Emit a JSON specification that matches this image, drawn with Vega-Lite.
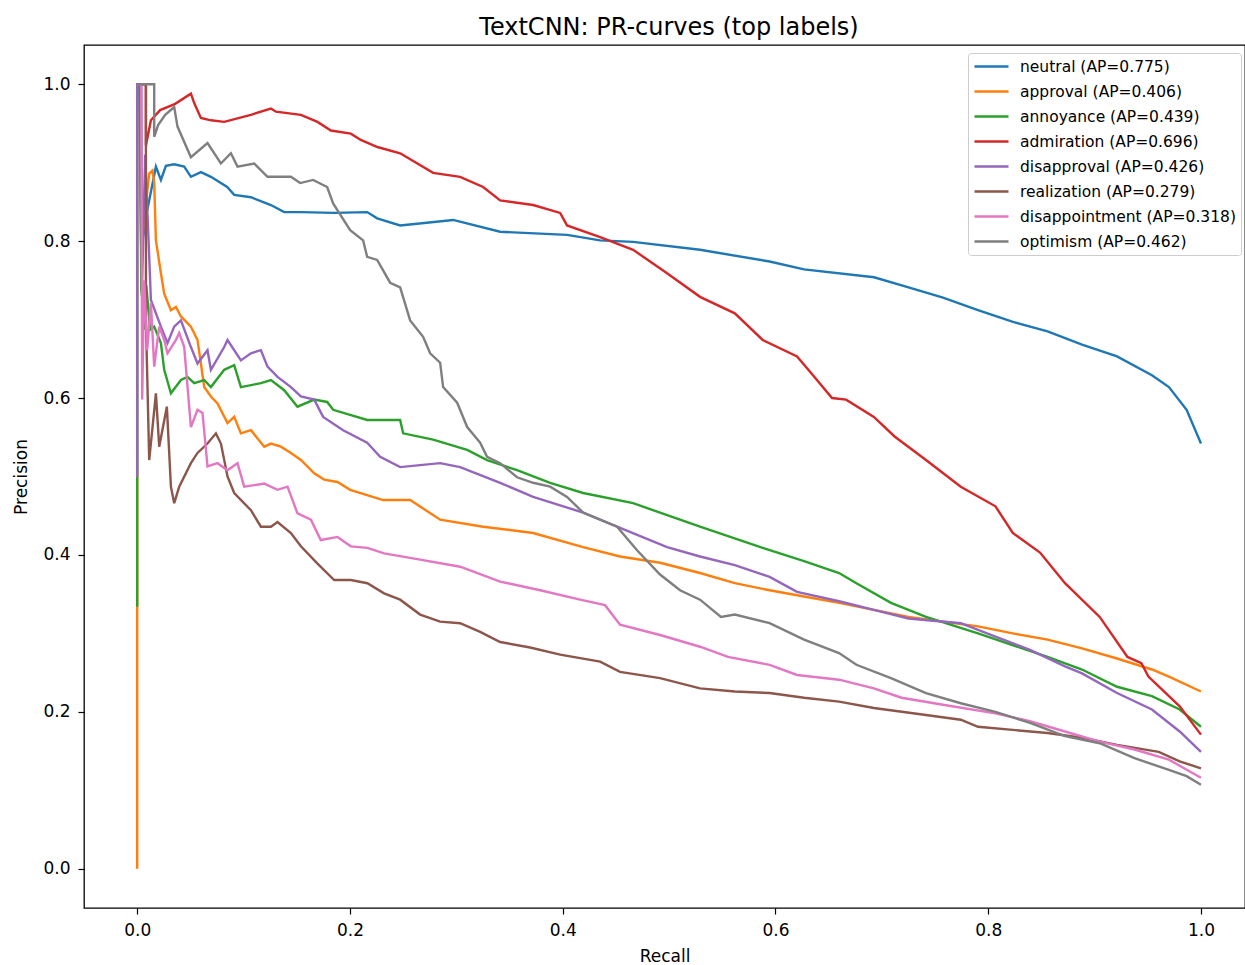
{
  "$schema": "https://vega.github.io/schema/vega-lite/v6.json",
  "width": 1161,
  "height": 863,
  "autosize": {"type": "none"},
  "padding": {"left": 84, "top": 45, "right": 0, "bottom": 57},
  "background": "white",
  "title": {"text": "TextCNN: PR-curves (top labels)", "fontSize": 24, "font": "DejaVu Sans", "fontWeight": "normal", "color": "black", "anchor": "middle", "dx": 4.5, "offset": 5},
  "config": {
    "font": "DejaVu Sans",
    "view": {"stroke": "black", "strokeWidth": 1.3},
    "axis": {"labelFont": "DejaVu Sans", "labelFontSize": 17, "labelColor": "black", "titleFont": "DejaVu Sans", "titleFontSize": 17, "titleFontWeight": "normal", "titleColor": "black", "tickColor": "black", "tickSize": 6, "tickWidth": 1.2, "domain": false, "grid": false, "labelPadding": 8}
  },
  "data": {"values": [
    {"label": "neutral (AP=0.775)", "recall": 0, "precision": 1},
    {"label": "neutral (AP=0.775)", "recall": 0.0019, "precision": 1},
    {"label": "neutral (AP=0.775)", "recall": 0.0038, "precision": 0.789},
    {"label": "neutral (AP=0.775)", "recall": 0.0085, "precision": 0.833},
    {"label": "neutral (AP=0.775)", "recall": 0.0113, "precision": 0.852},
    {"label": "neutral (AP=0.775)", "recall": 0.0176, "precision": 0.895},
    {"label": "neutral (AP=0.775)", "recall": 0.0223, "precision": 0.878},
    {"label": "neutral (AP=0.775)", "recall": 0.027, "precision": 0.896},
    {"label": "neutral (AP=0.775)", "recall": 0.0348, "precision": 0.898},
    {"label": "neutral (AP=0.775)", "recall": 0.0442, "precision": 0.895},
    {"label": "neutral (AP=0.775)", "recall": 0.0505, "precision": 0.882},
    {"label": "neutral (AP=0.775)", "recall": 0.0599, "precision": 0.888},
    {"label": "neutral (AP=0.775)", "recall": 0.0693, "precision": 0.882},
    {"label": "neutral (AP=0.775)", "recall": 0.0846, "precision": 0.869},
    {"label": "neutral (AP=0.775)", "recall": 0.0912, "precision": 0.859},
    {"label": "neutral (AP=0.775)", "recall": 0.1069, "precision": 0.856},
    {"label": "neutral (AP=0.775)", "recall": 0.1257, "precision": 0.846},
    {"label": "neutral (AP=0.775)", "recall": 0.1382, "precision": 0.837},
    {"label": "neutral (AP=0.775)", "recall": 0.1539, "precision": 0.837},
    {"label": "neutral (AP=0.775)", "recall": 0.1852, "precision": 0.836},
    {"label": "neutral (AP=0.775)", "recall": 0.2162, "precision": 0.837},
    {"label": "neutral (AP=0.775)", "recall": 0.2256, "precision": 0.829},
    {"label": "neutral (AP=0.775)", "recall": 0.2472, "precision": 0.82},
    {"label": "neutral (AP=0.775)", "recall": 0.297, "precision": 0.827},
    {"label": "neutral (AP=0.775)", "recall": 0.3412, "precision": 0.812},
    {"label": "neutral (AP=0.775)", "recall": 0.4041, "precision": 0.808},
    {"label": "neutral (AP=0.775)", "recall": 0.4352, "precision": 0.801},
    {"label": "neutral (AP=0.775)", "recall": 0.4662, "precision": 0.799},
    {"label": "neutral (AP=0.775)", "recall": 0.5291, "precision": 0.789},
    {"label": "neutral (AP=0.775)", "recall": 0.5945, "precision": 0.774},
    {"label": "neutral (AP=0.775)", "recall": 0.6269, "precision": 0.764},
    {"label": "neutral (AP=0.775)", "recall": 0.6927, "precision": 0.754},
    {"label": "neutral (AP=0.775)", "recall": 0.7251, "precision": 0.741},
    {"label": "neutral (AP=0.775)", "recall": 0.7575, "precision": 0.728},
    {"label": "neutral (AP=0.775)", "recall": 0.7904, "precision": 0.712},
    {"label": "neutral (AP=0.775)", "recall": 0.8233, "precision": 0.697},
    {"label": "neutral (AP=0.775)", "recall": 0.8558, "precision": 0.685},
    {"label": "neutral (AP=0.775)", "recall": 0.8882, "precision": 0.668},
    {"label": "neutral (AP=0.775)", "recall": 0.9211, "precision": 0.653},
    {"label": "neutral (AP=0.775)", "recall": 0.9539, "precision": 0.629},
    {"label": "neutral (AP=0.775)", "recall": 0.9699, "precision": 0.614},
    {"label": "neutral (AP=0.775)", "recall": 0.9865, "precision": 0.585},
    {"label": "neutral (AP=0.775)", "recall": 1.0, "precision": 0.542},

    {"label": "approval (AP=0.406)", "recall": 0, "precision": 0},
    {"label": "approval (AP=0.406)", "recall": 0, "precision": 1},
    {"label": "approval (AP=0.406)", "recall": 0.0028, "precision": 1},
    {"label": "approval (AP=0.406)", "recall": 0.0038, "precision": 0.789},
    {"label": "approval (AP=0.406)", "recall": 0.0085, "precision": 0.852},
    {"label": "approval (AP=0.406)", "recall": 0.0113, "precision": 0.886},
    {"label": "approval (AP=0.406)", "recall": 0.0144, "precision": 0.89},
    {"label": "approval (AP=0.406)", "recall": 0.016, "precision": 0.874},
    {"label": "approval (AP=0.406)", "recall": 0.0176, "precision": 0.801},
    {"label": "approval (AP=0.406)", "recall": 0.0223, "precision": 0.759},
    {"label": "approval (AP=0.406)", "recall": 0.0254, "precision": 0.733},
    {"label": "approval (AP=0.406)", "recall": 0.0317, "precision": 0.712},
    {"label": "approval (AP=0.406)", "recall": 0.0364, "precision": 0.716},
    {"label": "approval (AP=0.406)", "recall": 0.0411, "precision": 0.704},
    {"label": "approval (AP=0.406)", "recall": 0.0505, "precision": 0.691},
    {"label": "approval (AP=0.406)", "recall": 0.0567, "precision": 0.674},
    {"label": "approval (AP=0.406)", "recall": 0.0599, "precision": 0.644},
    {"label": "approval (AP=0.406)", "recall": 0.063, "precision": 0.614},
    {"label": "approval (AP=0.406)", "recall": 0.0693, "precision": 0.602},
    {"label": "approval (AP=0.406)", "recall": 0.0755, "precision": 0.593},
    {"label": "approval (AP=0.406)", "recall": 0.0849, "precision": 0.568},
    {"label": "approval (AP=0.406)", "recall": 0.0912, "precision": 0.576},
    {"label": "approval (AP=0.406)", "recall": 0.0975, "precision": 0.555},
    {"label": "approval (AP=0.406)", "recall": 0.1069, "precision": 0.559},
    {"label": "approval (AP=0.406)", "recall": 0.1194, "precision": 0.538},
    {"label": "approval (AP=0.406)", "recall": 0.1257, "precision": 0.542},
    {"label": "approval (AP=0.406)", "recall": 0.1351, "precision": 0.538},
    {"label": "approval (AP=0.406)", "recall": 0.1445, "precision": 0.53},
    {"label": "approval (AP=0.406)", "recall": 0.1539, "precision": 0.521},
    {"label": "approval (AP=0.406)", "recall": 0.1664, "precision": 0.504},
    {"label": "approval (AP=0.406)", "recall": 0.1758, "precision": 0.496},
    {"label": "approval (AP=0.406)", "recall": 0.1883, "precision": 0.493},
    {"label": "approval (AP=0.406)", "recall": 0.2002, "precision": 0.483},
    {"label": "approval (AP=0.406)", "recall": 0.2312, "precision": 0.47},
    {"label": "approval (AP=0.406)", "recall": 0.2566, "precision": 0.47},
    {"label": "approval (AP=0.406)", "recall": 0.2848, "precision": 0.445},
    {"label": "approval (AP=0.406)", "recall": 0.3252, "precision": 0.436},
    {"label": "approval (AP=0.406)", "recall": 0.3722, "precision": 0.428},
    {"label": "approval (AP=0.406)", "recall": 0.4192, "precision": 0.41},
    {"label": "approval (AP=0.406)", "recall": 0.4539, "precision": 0.398},
    {"label": "approval (AP=0.406)", "recall": 0.4915, "precision": 0.39},
    {"label": "approval (AP=0.406)", "recall": 0.5291, "precision": 0.377},
    {"label": "approval (AP=0.406)", "recall": 0.5618, "precision": 0.364},
    {"label": "approval (AP=0.406)", "recall": 0.5945, "precision": 0.355},
    {"label": "approval (AP=0.406)", "recall": 0.6269, "precision": 0.347},
    {"label": "approval (AP=0.406)", "recall": 0.6598, "precision": 0.339},
    {"label": "approval (AP=0.406)", "recall": 0.6925, "precision": 0.33},
    {"label": "approval (AP=0.406)", "recall": 0.7251, "precision": 0.321},
    {"label": "approval (AP=0.406)", "recall": 0.7575, "precision": 0.315},
    {"label": "approval (AP=0.406)", "recall": 0.7904, "precision": 0.309},
    {"label": "approval (AP=0.406)", "recall": 0.8231, "precision": 0.3},
    {"label": "approval (AP=0.406)", "recall": 0.8558, "precision": 0.292},
    {"label": "approval (AP=0.406)", "recall": 0.8882, "precision": 0.281},
    {"label": "approval (AP=0.406)", "recall": 0.9211, "precision": 0.268},
    {"label": "approval (AP=0.406)", "recall": 0.9539, "precision": 0.254},
    {"label": "approval (AP=0.406)", "recall": 0.9699, "precision": 0.245},
    {"label": "approval (AP=0.406)", "recall": 1.0, "precision": 0.226},

    {"label": "annoyance (AP=0.439)", "recall": 0, "precision": 0.334},
    {"label": "annoyance (AP=0.439)", "recall": 0, "precision": 1},
    {"label": "annoyance (AP=0.439)", "recall": 0.0028, "precision": 1},
    {"label": "annoyance (AP=0.439)", "recall": 0.0038, "precision": 0.738},
    {"label": "annoyance (AP=0.439)", "recall": 0.005, "precision": 0.725},
    {"label": "annoyance (AP=0.439)", "recall": 0.0066, "precision": 0.687},
    {"label": "annoyance (AP=0.439)", "recall": 0.0085, "precision": 0.744},
    {"label": "annoyance (AP=0.439)", "recall": 0.0122, "precision": 0.687},
    {"label": "annoyance (AP=0.439)", "recall": 0.016, "precision": 0.691},
    {"label": "annoyance (AP=0.439)", "recall": 0.0223, "precision": 0.67},
    {"label": "annoyance (AP=0.439)", "recall": 0.0254, "precision": 0.636},
    {"label": "annoyance (AP=0.439)", "recall": 0.0317, "precision": 0.606},
    {"label": "annoyance (AP=0.439)", "recall": 0.0411, "precision": 0.623},
    {"label": "annoyance (AP=0.439)", "recall": 0.0473, "precision": 0.627},
    {"label": "annoyance (AP=0.439)", "recall": 0.0536, "precision": 0.619},
    {"label": "annoyance (AP=0.439)", "recall": 0.063, "precision": 0.623},
    {"label": "annoyance (AP=0.439)", "recall": 0.0693, "precision": 0.614},
    {"label": "annoyance (AP=0.439)", "recall": 0.0818, "precision": 0.636},
    {"label": "annoyance (AP=0.439)", "recall": 0.0912, "precision": 0.642},
    {"label": "annoyance (AP=0.439)", "recall": 0.0975, "precision": 0.614},
    {"label": "annoyance (AP=0.439)", "recall": 0.1163, "precision": 0.619},
    {"label": "annoyance (AP=0.439)", "recall": 0.1257, "precision": 0.623},
    {"label": "annoyance (AP=0.439)", "recall": 0.1382, "precision": 0.61},
    {"label": "annoyance (AP=0.439)", "recall": 0.1507, "precision": 0.589},
    {"label": "annoyance (AP=0.439)", "recall": 0.1664, "precision": 0.598},
    {"label": "annoyance (AP=0.439)", "recall": 0.1786, "precision": 0.595},
    {"label": "annoyance (AP=0.439)", "recall": 0.1842, "precision": 0.585},
    {"label": "annoyance (AP=0.439)", "recall": 0.2162, "precision": 0.572},
    {"label": "annoyance (AP=0.439)", "recall": 0.2472, "precision": 0.572},
    {"label": "annoyance (AP=0.439)", "recall": 0.25, "precision": 0.555},
    {"label": "annoyance (AP=0.439)", "recall": 0.2782, "precision": 0.547},
    {"label": "annoyance (AP=0.439)", "recall": 0.3102, "precision": 0.534},
    {"label": "annoyance (AP=0.439)", "recall": 0.3289, "precision": 0.521},
    {"label": "annoyance (AP=0.439)", "recall": 0.3571, "precision": 0.508},
    {"label": "annoyance (AP=0.439)", "recall": 0.3882, "precision": 0.492},
    {"label": "annoyance (AP=0.439)", "recall": 0.4192, "precision": 0.479},
    {"label": "annoyance (AP=0.439)", "recall": 0.4662, "precision": 0.466},
    {"label": "annoyance (AP=0.439)", "recall": 0.5291, "precision": 0.436},
    {"label": "annoyance (AP=0.439)", "recall": 0.588, "precision": 0.409},
    {"label": "annoyance (AP=0.439)", "recall": 0.6269, "precision": 0.392},
    {"label": "annoyance (AP=0.439)", "recall": 0.6598, "precision": 0.377},
    {"label": "annoyance (AP=0.439)", "recall": 0.6761, "precision": 0.364},
    {"label": "annoyance (AP=0.439)", "recall": 0.7086, "precision": 0.339},
    {"label": "annoyance (AP=0.439)", "recall": 0.7415, "precision": 0.321},
    {"label": "annoyance (AP=0.439)", "recall": 0.7904, "precision": 0.3},
    {"label": "annoyance (AP=0.439)", "recall": 0.8558, "precision": 0.27},
    {"label": "annoyance (AP=0.439)", "recall": 0.8882, "precision": 0.254},
    {"label": "annoyance (AP=0.439)", "recall": 0.9211, "precision": 0.232},
    {"label": "annoyance (AP=0.439)", "recall": 0.9539, "precision": 0.22},
    {"label": "annoyance (AP=0.439)", "recall": 0.98, "precision": 0.203},
    {"label": "annoyance (AP=0.439)", "recall": 1.0, "precision": 0.181},

    {"label": "admiration (AP=0.696)", "recall": 0, "precision": 1},
    {"label": "admiration (AP=0.696)", "recall": 0.0082, "precision": 1},
    {"label": "admiration (AP=0.696)", "recall": 0.0082, "precision": 0.922},
    {"label": "admiration (AP=0.696)", "recall": 0.0129, "precision": 0.954},
    {"label": "admiration (AP=0.696)", "recall": 0.0216, "precision": 0.967},
    {"label": "admiration (AP=0.696)", "recall": 0.0357, "precision": 0.975},
    {"label": "admiration (AP=0.696)", "recall": 0.0505, "precision": 0.988},
    {"label": "admiration (AP=0.696)", "recall": 0.0536, "precision": 0.976},
    {"label": "admiration (AP=0.696)", "recall": 0.0599, "precision": 0.957},
    {"label": "admiration (AP=0.696)", "recall": 0.0693, "precision": 0.954},
    {"label": "admiration (AP=0.696)", "recall": 0.0818, "precision": 0.952},
    {"label": "admiration (AP=0.696)", "recall": 0.1069, "precision": 0.961},
    {"label": "admiration (AP=0.696)", "recall": 0.1257, "precision": 0.969},
    {"label": "admiration (AP=0.696)", "recall": 0.1304, "precision": 0.965},
    {"label": "admiration (AP=0.696)", "recall": 0.1539, "precision": 0.961},
    {"label": "admiration (AP=0.696)", "recall": 0.1695, "precision": 0.952},
    {"label": "admiration (AP=0.696)", "recall": 0.1821, "precision": 0.941},
    {"label": "admiration (AP=0.696)", "recall": 0.2008, "precision": 0.937},
    {"label": "admiration (AP=0.696)", "recall": 0.2102, "precision": 0.929},
    {"label": "admiration (AP=0.696)", "recall": 0.2258, "precision": 0.92},
    {"label": "admiration (AP=0.696)", "recall": 0.2472, "precision": 0.912},
    {"label": "admiration (AP=0.696)", "recall": 0.2782, "precision": 0.887},
    {"label": "admiration (AP=0.696)", "recall": 0.3036, "precision": 0.882},
    {"label": "admiration (AP=0.696)", "recall": 0.3252, "precision": 0.869},
    {"label": "admiration (AP=0.696)", "recall": 0.3412, "precision": 0.852},
    {"label": "admiration (AP=0.696)", "recall": 0.3722, "precision": 0.846},
    {"label": "admiration (AP=0.696)", "recall": 0.3976, "precision": 0.836},
    {"label": "admiration (AP=0.696)", "recall": 0.4041, "precision": 0.82},
    {"label": "admiration (AP=0.696)", "recall": 0.4352, "precision": 0.805},
    {"label": "admiration (AP=0.696)", "recall": 0.4662, "precision": 0.789},
    {"label": "admiration (AP=0.696)", "recall": 0.4981, "precision": 0.759},
    {"label": "admiration (AP=0.696)", "recall": 0.5291, "precision": 0.729},
    {"label": "admiration (AP=0.696)", "recall": 0.5618, "precision": 0.708},
    {"label": "admiration (AP=0.696)", "recall": 0.588, "precision": 0.674},
    {"label": "admiration (AP=0.696)", "recall": 0.6203, "precision": 0.653},
    {"label": "admiration (AP=0.696)", "recall": 0.6335, "precision": 0.632},
    {"label": "admiration (AP=0.696)", "recall": 0.6532, "precision": 0.6},
    {"label": "admiration (AP=0.696)", "recall": 0.6664, "precision": 0.598},
    {"label": "admiration (AP=0.696)", "recall": 0.6925, "precision": 0.576},
    {"label": "admiration (AP=0.696)", "recall": 0.712, "precision": 0.551},
    {"label": "admiration (AP=0.696)", "recall": 0.7415, "precision": 0.521},
    {"label": "admiration (AP=0.696)", "recall": 0.7742, "precision": 0.487},
    {"label": "admiration (AP=0.696)", "recall": 0.8068, "precision": 0.462},
    {"label": "admiration (AP=0.696)", "recall": 0.8231, "precision": 0.428},
    {"label": "admiration (AP=0.696)", "recall": 0.8487, "precision": 0.403},
    {"label": "admiration (AP=0.696)", "recall": 0.8722, "precision": 0.364},
    {"label": "admiration (AP=0.696)", "recall": 0.9048, "precision": 0.321},
    {"label": "admiration (AP=0.696)", "recall": 0.9309, "precision": 0.27},
    {"label": "admiration (AP=0.696)", "recall": 0.944, "precision": 0.262},
    {"label": "admiration (AP=0.696)", "recall": 0.9506, "precision": 0.245},
    {"label": "admiration (AP=0.696)", "recall": 0.98, "precision": 0.207},
    {"label": "admiration (AP=0.696)", "recall": 1.0, "precision": 0.171},

    {"label": "disapproval (AP=0.426)", "recall": 0, "precision": 0.499},
    {"label": "disapproval (AP=0.426)", "recall": 0, "precision": 1},
    {"label": "disapproval (AP=0.426)", "recall": 0.0038, "precision": 1},
    {"label": "disapproval (AP=0.426)", "recall": 0.0047, "precision": 0.75},
    {"label": "disapproval (AP=0.426)", "recall": 0.0075, "precision": 0.91},
    {"label": "disapproval (AP=0.426)", "recall": 0.0103, "precision": 0.814},
    {"label": "disapproval (AP=0.426)", "recall": 0.0129, "precision": 0.725},
    {"label": "disapproval (AP=0.426)", "recall": 0.0223, "precision": 0.691},
    {"label": "disapproval (AP=0.426)", "recall": 0.0285, "precision": 0.67},
    {"label": "disapproval (AP=0.426)", "recall": 0.0348, "precision": 0.691},
    {"label": "disapproval (AP=0.426)", "recall": 0.0411, "precision": 0.699},
    {"label": "disapproval (AP=0.426)", "recall": 0.0505, "precision": 0.665},
    {"label": "disapproval (AP=0.426)", "recall": 0.0567, "precision": 0.644},
    {"label": "disapproval (AP=0.426)", "recall": 0.0661, "precision": 0.661},
    {"label": "disapproval (AP=0.426)", "recall": 0.0693, "precision": 0.636},
    {"label": "disapproval (AP=0.426)", "recall": 0.0818, "precision": 0.665},
    {"label": "disapproval (AP=0.426)", "recall": 0.0849, "precision": 0.674},
    {"label": "disapproval (AP=0.426)", "recall": 0.0975, "precision": 0.648},
    {"label": "disapproval (AP=0.426)", "recall": 0.1069, "precision": 0.657},
    {"label": "disapproval (AP=0.426)", "recall": 0.1163, "precision": 0.661},
    {"label": "disapproval (AP=0.426)", "recall": 0.1225, "precision": 0.64},
    {"label": "disapproval (AP=0.426)", "recall": 0.1319, "precision": 0.627},
    {"label": "disapproval (AP=0.426)", "recall": 0.1445, "precision": 0.614},
    {"label": "disapproval (AP=0.426)", "recall": 0.1539, "precision": 0.602},
    {"label": "disapproval (AP=0.426)", "recall": 0.1664, "precision": 0.598},
    {"label": "disapproval (AP=0.426)", "recall": 0.1748, "precision": 0.576},
    {"label": "disapproval (AP=0.426)", "recall": 0.1936, "precision": 0.559},
    {"label": "disapproval (AP=0.426)", "recall": 0.2162, "precision": 0.543},
    {"label": "disapproval (AP=0.426)", "recall": 0.2284, "precision": 0.525},
    {"label": "disapproval (AP=0.426)", "recall": 0.2472, "precision": 0.512},
    {"label": "disapproval (AP=0.426)", "recall": 0.2848, "precision": 0.517},
    {"label": "disapproval (AP=0.426)", "recall": 0.3036, "precision": 0.512},
    {"label": "disapproval (AP=0.426)", "recall": 0.3412, "precision": 0.492},
    {"label": "disapproval (AP=0.426)", "recall": 0.3722, "precision": 0.474},
    {"label": "disapproval (AP=0.426)", "recall": 0.4192, "precision": 0.454},
    {"label": "disapproval (AP=0.426)", "recall": 0.4511, "precision": 0.436},
    {"label": "disapproval (AP=0.426)", "recall": 0.4981, "precision": 0.41},
    {"label": "disapproval (AP=0.426)", "recall": 0.5291, "precision": 0.398},
    {"label": "disapproval (AP=0.426)", "recall": 0.5618, "precision": 0.387},
    {"label": "disapproval (AP=0.426)", "recall": 0.5945, "precision": 0.372},
    {"label": "disapproval (AP=0.426)", "recall": 0.6203, "precision": 0.353},
    {"label": "disapproval (AP=0.426)", "recall": 0.6598, "precision": 0.341},
    {"label": "disapproval (AP=0.426)", "recall": 0.6925, "precision": 0.33},
    {"label": "disapproval (AP=0.426)", "recall": 0.7251, "precision": 0.319},
    {"label": "disapproval (AP=0.426)", "recall": 0.7742, "precision": 0.313},
    {"label": "disapproval (AP=0.426)", "recall": 0.8068, "precision": 0.296},
    {"label": "disapproval (AP=0.426)", "recall": 0.8393, "precision": 0.279},
    {"label": "disapproval (AP=0.426)", "recall": 0.8722, "precision": 0.258},
    {"label": "disapproval (AP=0.426)", "recall": 0.8882, "precision": 0.249},
    {"label": "disapproval (AP=0.426)", "recall": 0.9211, "precision": 0.224},
    {"label": "disapproval (AP=0.426)", "recall": 0.9539, "precision": 0.203},
    {"label": "disapproval (AP=0.426)", "recall": 0.98, "precision": 0.175},
    {"label": "disapproval (AP=0.426)", "recall": 1.0, "precision": 0.149},

    {"label": "realization (AP=0.279)", "recall": 0, "precision": 1},
    {"label": "realization (AP=0.279)", "recall": 0.0082, "precision": 1},
    {"label": "realization (AP=0.279)", "recall": 0.0082, "precision": 0.699},
    {"label": "realization (AP=0.279)", "recall": 0.0113, "precision": 0.521},
    {"label": "realization (AP=0.279)", "recall": 0.0176, "precision": 0.606},
    {"label": "realization (AP=0.279)", "recall": 0.0207, "precision": 0.538},
    {"label": "realization (AP=0.279)", "recall": 0.0279, "precision": 0.589},
    {"label": "realization (AP=0.279)", "recall": 0.0317, "precision": 0.487},
    {"label": "realization (AP=0.279)", "recall": 0.0348, "precision": 0.466},
    {"label": "realization (AP=0.279)", "recall": 0.0395, "precision": 0.487},
    {"label": "realization (AP=0.279)", "recall": 0.0505, "precision": 0.517},
    {"label": "realization (AP=0.279)", "recall": 0.0567, "precision": 0.53},
    {"label": "realization (AP=0.279)", "recall": 0.0661, "precision": 0.542},
    {"label": "realization (AP=0.279)", "recall": 0.074, "precision": 0.555},
    {"label": "realization (AP=0.279)", "recall": 0.0787, "precision": 0.542},
    {"label": "realization (AP=0.279)", "recall": 0.0849, "precision": 0.5},
    {"label": "realization (AP=0.279)", "recall": 0.0912, "precision": 0.479},
    {"label": "realization (AP=0.279)", "recall": 0.1069, "precision": 0.457},
    {"label": "realization (AP=0.279)", "recall": 0.1163, "precision": 0.436},
    {"label": "realization (AP=0.279)", "recall": 0.1257, "precision": 0.436},
    {"label": "realization (AP=0.279)", "recall": 0.1319, "precision": 0.442},
    {"label": "realization (AP=0.279)", "recall": 0.1445, "precision": 0.428},
    {"label": "realization (AP=0.279)", "recall": 0.1539, "precision": 0.411},
    {"label": "realization (AP=0.279)", "recall": 0.1695, "precision": 0.389},
    {"label": "realization (AP=0.279)", "recall": 0.1852, "precision": 0.368},
    {"label": "realization (AP=0.279)", "recall": 0.2008, "precision": 0.368},
    {"label": "realization (AP=0.279)", "recall": 0.2164, "precision": 0.364},
    {"label": "realization (AP=0.279)", "recall": 0.2321, "precision": 0.351},
    {"label": "realization (AP=0.279)", "recall": 0.2472, "precision": 0.343},
    {"label": "realization (AP=0.279)", "recall": 0.266, "precision": 0.324},
    {"label": "realization (AP=0.279)", "recall": 0.2848, "precision": 0.315},
    {"label": "realization (AP=0.279)", "recall": 0.3036, "precision": 0.313},
    {"label": "realization (AP=0.279)", "recall": 0.3224, "precision": 0.302},
    {"label": "realization (AP=0.279)", "recall": 0.3412, "precision": 0.289},
    {"label": "realization (AP=0.279)", "recall": 0.3694, "precision": 0.282},
    {"label": "realization (AP=0.279)", "recall": 0.3976, "precision": 0.273},
    {"label": "realization (AP=0.279)", "recall": 0.4352, "precision": 0.264},
    {"label": "realization (AP=0.279)", "recall": 0.4539, "precision": 0.251},
    {"label": "realization (AP=0.279)", "recall": 0.4915, "precision": 0.243},
    {"label": "realization (AP=0.279)", "recall": 0.5291, "precision": 0.23},
    {"label": "realization (AP=0.279)", "recall": 0.5618, "precision": 0.226},
    {"label": "realization (AP=0.279)", "recall": 0.5945, "precision": 0.224},
    {"label": "realization (AP=0.279)", "recall": 0.6269, "precision": 0.218},
    {"label": "realization (AP=0.279)", "recall": 0.6598, "precision": 0.213},
    {"label": "realization (AP=0.279)", "recall": 0.6925, "precision": 0.205},
    {"label": "realization (AP=0.279)", "recall": 0.7415, "precision": 0.196},
    {"label": "realization (AP=0.279)", "recall": 0.7742, "precision": 0.19},
    {"label": "realization (AP=0.279)", "recall": 0.7904, "precision": 0.181},
    {"label": "realization (AP=0.279)", "recall": 0.8231, "precision": 0.177},
    {"label": "realization (AP=0.279)", "recall": 0.8558, "precision": 0.173},
    {"label": "realization (AP=0.279)", "recall": 0.8882, "precision": 0.167},
    {"label": "realization (AP=0.279)", "recall": 0.9211, "precision": 0.158},
    {"label": "realization (AP=0.279)", "recall": 0.9603, "precision": 0.149},
    {"label": "realization (AP=0.279)", "recall": 0.98, "precision": 0.137},
    {"label": "realization (AP=0.279)", "recall": 1.0, "precision": 0.128},

    {"label": "disappointment (AP=0.318)", "recall": 0, "precision": 1},
    {"label": "disappointment (AP=0.318)", "recall": 0.0038, "precision": 1},
    {"label": "disappointment (AP=0.318)", "recall": 0.0047, "precision": 0.598},
    {"label": "disappointment (AP=0.318)", "recall": 0.0066, "precision": 0.75},
    {"label": "disappointment (AP=0.318)", "recall": 0.0094, "precision": 0.661},
    {"label": "disappointment (AP=0.318)", "recall": 0.0129, "precision": 0.721},
    {"label": "disappointment (AP=0.318)", "recall": 0.016, "precision": 0.64},
    {"label": "disappointment (AP=0.318)", "recall": 0.0207, "precision": 0.691},
    {"label": "disappointment (AP=0.318)", "recall": 0.0254, "precision": 0.674},
    {"label": "disappointment (AP=0.318)", "recall": 0.0285, "precision": 0.657},
    {"label": "disappointment (AP=0.318)", "recall": 0.0364, "precision": 0.674},
    {"label": "disappointment (AP=0.318)", "recall": 0.0395, "precision": 0.683},
    {"label": "disappointment (AP=0.318)", "recall": 0.0442, "precision": 0.665},
    {"label": "disappointment (AP=0.318)", "recall": 0.0505, "precision": 0.563},
    {"label": "disappointment (AP=0.318)", "recall": 0.0567, "precision": 0.585},
    {"label": "disappointment (AP=0.318)", "recall": 0.0614, "precision": 0.581},
    {"label": "disappointment (AP=0.318)", "recall": 0.0661, "precision": 0.513},
    {"label": "disappointment (AP=0.318)", "recall": 0.0755, "precision": 0.517},
    {"label": "disappointment (AP=0.318)", "recall": 0.0849, "precision": 0.508},
    {"label": "disappointment (AP=0.318)", "recall": 0.0943, "precision": 0.517},
    {"label": "disappointment (AP=0.318)", "recall": 0.1006, "precision": 0.487},
    {"label": "disappointment (AP=0.318)", "recall": 0.1194, "precision": 0.491},
    {"label": "disappointment (AP=0.318)", "recall": 0.1319, "precision": 0.483},
    {"label": "disappointment (AP=0.318)", "recall": 0.1413, "precision": 0.487},
    {"label": "disappointment (AP=0.318)", "recall": 0.1507, "precision": 0.453},
    {"label": "disappointment (AP=0.318)", "recall": 0.1633, "precision": 0.445},
    {"label": "disappointment (AP=0.318)", "recall": 0.1726, "precision": 0.419},
    {"label": "disappointment (AP=0.318)", "recall": 0.1883, "precision": 0.423},
    {"label": "disappointment (AP=0.318)", "recall": 0.2008, "precision": 0.411},
    {"label": "disappointment (AP=0.318)", "recall": 0.2164, "precision": 0.409},
    {"label": "disappointment (AP=0.318)", "recall": 0.2321, "precision": 0.402},
    {"label": "disappointment (AP=0.318)", "recall": 0.266, "precision": 0.394},
    {"label": "disappointment (AP=0.318)", "recall": 0.3036, "precision": 0.385},
    {"label": "disappointment (AP=0.318)", "recall": 0.3412, "precision": 0.366},
    {"label": "disappointment (AP=0.318)", "recall": 0.3788, "precision": 0.355},
    {"label": "disappointment (AP=0.318)", "recall": 0.4164, "precision": 0.343},
    {"label": "disappointment (AP=0.318)", "recall": 0.4398, "precision": 0.336},
    {"label": "disappointment (AP=0.318)", "recall": 0.4539, "precision": 0.311},
    {"label": "disappointment (AP=0.318)", "recall": 0.4915, "precision": 0.298},
    {"label": "disappointment (AP=0.318)", "recall": 0.5291, "precision": 0.283},
    {"label": "disappointment (AP=0.318)", "recall": 0.5553, "precision": 0.27},
    {"label": "disappointment (AP=0.318)", "recall": 0.5945, "precision": 0.26},
    {"label": "disappointment (AP=0.318)", "recall": 0.6203, "precision": 0.247},
    {"label": "disappointment (AP=0.318)", "recall": 0.6598, "precision": 0.241},
    {"label": "disappointment (AP=0.318)", "recall": 0.6925, "precision": 0.23},
    {"label": "disappointment (AP=0.318)", "recall": 0.7186, "precision": 0.218},
    {"label": "disappointment (AP=0.318)", "recall": 0.7575, "precision": 0.209},
    {"label": "disappointment (AP=0.318)", "recall": 0.8068, "precision": 0.198},
    {"label": "disappointment (AP=0.318)", "recall": 0.8393, "precision": 0.188},
    {"label": "disappointment (AP=0.318)", "recall": 0.8722, "precision": 0.175},
    {"label": "disappointment (AP=0.318)", "recall": 0.9048, "precision": 0.162},
    {"label": "disappointment (AP=0.318)", "recall": 0.9375, "precision": 0.152},
    {"label": "disappointment (AP=0.318)", "recall": 0.9699, "precision": 0.139},
    {"label": "disappointment (AP=0.318)", "recall": 1.0, "precision": 0.116},

    {"label": "optimism (AP=0.462)", "recall": 0, "precision": 1},
    {"label": "optimism (AP=0.462)", "recall": 0.016, "precision": 1},
    {"label": "optimism (AP=0.462)", "recall": 0.016, "precision": 0.933},
    {"label": "optimism (AP=0.462)", "recall": 0.0197, "precision": 0.948},
    {"label": "optimism (AP=0.462)", "recall": 0.0263, "precision": 0.961},
    {"label": "optimism (AP=0.462)", "recall": 0.0348, "precision": 0.971},
    {"label": "optimism (AP=0.462)", "recall": 0.0379, "precision": 0.946},
    {"label": "optimism (AP=0.462)", "recall": 0.0505, "precision": 0.907},
    {"label": "optimism (AP=0.462)", "recall": 0.0661, "precision": 0.925},
    {"label": "optimism (AP=0.462)", "recall": 0.0787, "precision": 0.899},
    {"label": "optimism (AP=0.462)", "recall": 0.0881, "precision": 0.912},
    {"label": "optimism (AP=0.462)", "recall": 0.0943, "precision": 0.895},
    {"label": "optimism (AP=0.462)", "recall": 0.11, "precision": 0.899},
    {"label": "optimism (AP=0.462)", "recall": 0.1225, "precision": 0.882},
    {"label": "optimism (AP=0.462)", "recall": 0.1445, "precision": 0.882},
    {"label": "optimism (AP=0.462)", "recall": 0.1532, "precision": 0.874},
    {"label": "optimism (AP=0.462)", "recall": 0.1654, "precision": 0.878},
    {"label": "optimism (AP=0.462)", "recall": 0.1786, "precision": 0.869},
    {"label": "optimism (AP=0.462)", "recall": 0.1842, "precision": 0.848},
    {"label": "optimism (AP=0.462)", "recall": 0.2002, "precision": 0.814},
    {"label": "optimism (AP=0.462)", "recall": 0.2124, "precision": 0.801},
    {"label": "optimism (AP=0.462)", "recall": 0.2162, "precision": 0.78},
    {"label": "optimism (AP=0.462)", "recall": 0.2256, "precision": 0.776},
    {"label": "optimism (AP=0.462)", "recall": 0.2378, "precision": 0.747},
    {"label": "optimism (AP=0.462)", "recall": 0.2472, "precision": 0.741},
    {"label": "optimism (AP=0.462)", "recall": 0.2566, "precision": 0.699},
    {"label": "optimism (AP=0.462)", "recall": 0.2688, "precision": 0.678},
    {"label": "optimism (AP=0.462)", "recall": 0.2754, "precision": 0.657},
    {"label": "optimism (AP=0.462)", "recall": 0.2848, "precision": 0.645},
    {"label": "optimism (AP=0.462)", "recall": 0.2876, "precision": 0.614},
    {"label": "optimism (AP=0.462)", "recall": 0.3008, "precision": 0.594},
    {"label": "optimism (AP=0.462)", "recall": 0.3102, "precision": 0.563},
    {"label": "optimism (AP=0.462)", "recall": 0.3224, "precision": 0.543},
    {"label": "optimism (AP=0.462)", "recall": 0.3289, "precision": 0.525},
    {"label": "optimism (AP=0.462)", "recall": 0.3412, "precision": 0.517},
    {"label": "optimism (AP=0.462)", "recall": 0.3571, "precision": 0.499},
    {"label": "optimism (AP=0.462)", "recall": 0.3722, "precision": 0.492},
    {"label": "optimism (AP=0.462)", "recall": 0.3882, "precision": 0.487},
    {"label": "optimism (AP=0.462)", "recall": 0.4041, "precision": 0.474},
    {"label": "optimism (AP=0.462)", "recall": 0.4192, "precision": 0.454},
    {"label": "optimism (AP=0.462)", "recall": 0.4511, "precision": 0.436},
    {"label": "optimism (AP=0.462)", "recall": 0.4699, "precision": 0.406},
    {"label": "optimism (AP=0.462)", "recall": 0.4915, "precision": 0.375},
    {"label": "optimism (AP=0.462)", "recall": 0.5103, "precision": 0.355},
    {"label": "optimism (AP=0.462)", "recall": 0.5291, "precision": 0.343},
    {"label": "optimism (AP=0.462)", "recall": 0.5488, "precision": 0.321},
    {"label": "optimism (AP=0.462)", "recall": 0.5618, "precision": 0.324},
    {"label": "optimism (AP=0.462)", "recall": 0.5945, "precision": 0.313},
    {"label": "optimism (AP=0.462)", "recall": 0.6269, "precision": 0.292},
    {"label": "optimism (AP=0.462)", "recall": 0.6598, "precision": 0.275},
    {"label": "optimism (AP=0.462)", "recall": 0.6761, "precision": 0.26},
    {"label": "optimism (AP=0.462)", "recall": 0.7086, "precision": 0.243},
    {"label": "optimism (AP=0.462)", "recall": 0.7415, "precision": 0.224},
    {"label": "optimism (AP=0.462)", "recall": 0.7742, "precision": 0.211},
    {"label": "optimism (AP=0.462)", "recall": 0.8068, "precision": 0.2},
    {"label": "optimism (AP=0.462)", "recall": 0.8393, "precision": 0.186},
    {"label": "optimism (AP=0.462)", "recall": 0.8722, "precision": 0.169},
    {"label": "optimism (AP=0.462)", "recall": 0.9048, "precision": 0.16},
    {"label": "optimism (AP=0.462)", "recall": 0.9375, "precision": 0.141},
    {"label": "optimism (AP=0.462)", "recall": 0.9699, "precision": 0.126},
    {"label": "optimism (AP=0.462)", "recall": 0.9865, "precision": 0.118},
    {"label": "optimism (AP=0.462)", "recall": 1.0, "precision": 0.107}
  ]},
  "mark": {"type": "line", "strokeWidth": 2.4, "clip": true},
  "encoding": {
    "x": {"field": "recall", "type": "quantitative", "scale": {"domain": [-0.05, 1.0414], "nice": false, "zero": false},
          "axis": {"title": "Recall", "values": [0, 0.2, 0.4, 0.6, 0.8, 1.0], "format": ".1f", "titlePadding": 10}},
    "y": {"field": "precision", "type": "quantitative", "scale": {"domain": [-0.05, 1.05], "nice": false, "zero": false},
          "axis": {"title": "Precision", "values": [0, 0.2, 0.4, 0.6, 0.8, 1.0], "format": ".1f", "labelPadding": 8, "titlePadding": 12}},
    "color": {"field": "label", "type": "nominal",
      "scale": {"domain": ["neutral (AP=0.775)", "approval (AP=0.406)", "annoyance (AP=0.439)", "admiration (AP=0.696)", "disapproval (AP=0.426)", "realization (AP=0.279)", "disappointment (AP=0.318)", "optimism (AP=0.462)"],
                "range": ["#1f77b4", "#ff7f0e", "#2ca02c", "#d62728", "#9467bd", "#8c564b", "#e377c2", "#7f7f7f"]},
      "legend": {"title": null, "orient": "none", "legendX": 884, "legendY": 8, "symbolType": "M-1,0H3.857", "symbolSize": 196, "symbolStrokeWidth": 2.4, "labelFontSize": 15.5, "labelFont": "DejaVu Sans", "labelColor": "black", "labelOffset": 30, "rowPadding": 8, "padding": 5, "strokeColor": "#cccccc", "fillColor": "white", "cornerRadius": 3, "labelLimit": 0}},
    "order": {"value": null}
  }
}
